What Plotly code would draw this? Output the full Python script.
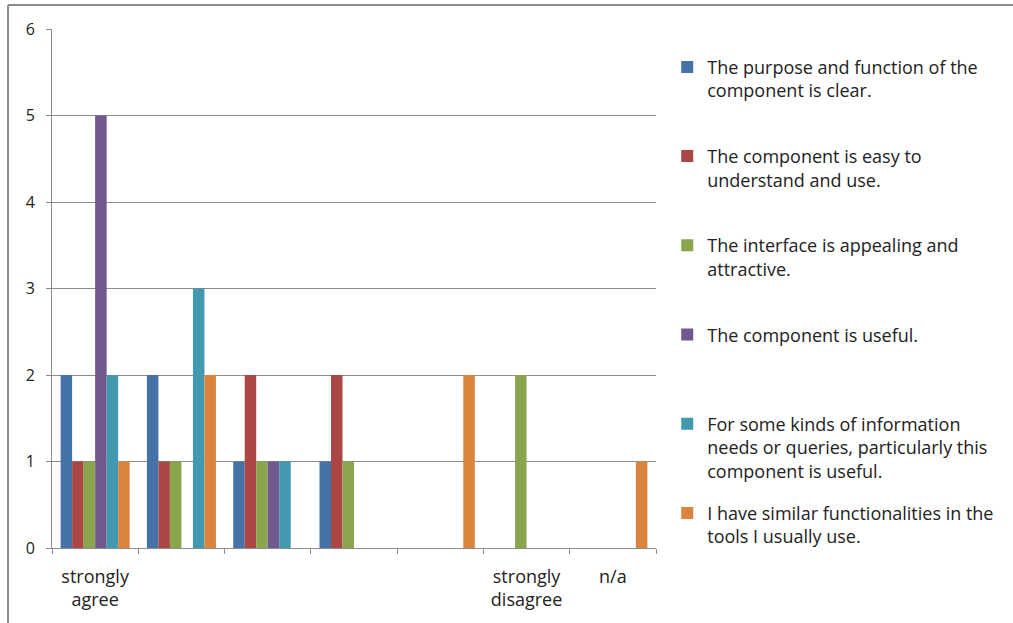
import plotly.graph_objects as go

tick_labels = ["strongly<br>agree", "", "", "", "", "strongly<br>disagree", "n/a"]
positions = list(range(len(tick_labels)))

series_names = [
    "The purpose and function of the<br>component is clear.",
    "The component is easy to<br>understand and use.",
    "The interface is appealing and<br>attractive.",
    "The component is useful.",
    "For some kinds of information<br>needs or queries, particularly this<br>component is useful.",
    "I have similar functionalities in the<br>tools I usually use.",
]
purpose_clear = [2, 2, 1, 1, 0, 0, 0]
easy_to_use = [1, 1, 2, 2, 0, 0, 0]
appealing = [1, 1, 1, 1, 0, 2, 0]
useful = [5, 0, 1, 0, 0, 0, 0]
useful_for_queries = [2, 3, 1, 0, 0, 0, 0]
similar_tools = [1, 2, 0, 0, 2, 0, 1]
series_values = [purpose_clear, easy_to_use, appealing, useful, useful_for_queries, similar_tools]
colors = ["#4572A7", "#AA4643", "#89A54E", "#71588F", "#4198AF", "#DB843D"]

FONT = "Open Sans"
TEXT = "#222222"
GRID = "#8C8C8C"

fig = go.Figure()
for i, (name, vals, col) in enumerate(zip(series_names, series_values, colors)):
    n_lines = name.count("<br>") + 1
    padded = name + "<br> " * (3 - n_lines)
    fig.add_trace(go.Bar(x=positions, y=vals, name=padded, marker_color=col,
                         marker_line_width=0, legendgroup=f"g{i}"))

fig.update_layout(
    width=1013, height=623,
    margin=dict(l=52, r=357, t=29, b=75),
    paper_bgcolor="white", plot_bgcolor="white",
    barmode="group", bargap=0.2, bargroupgap=0,
    font=dict(family=FONT, size=15, color=TEXT),
    showlegend=True,
    legend=dict(x=1.0186, xanchor="left", y=0.962, yanchor="top",
                valign="top", tracegroupgap=16, maxheight=623,
                font=dict(family=FONT, size=18, color=TEXT),
                bgcolor="rgba(0,0,0,0)"),
    xaxis=dict(type="category", tickvals=positions, ticktext=tick_labels,
               tickson="boundaries", ticks="outside", ticklen=5, tickcolor=GRID,
               showline=True, linecolor=GRID, linewidth=1, showgrid=False,
               tickfont=dict(family=FONT, size=18, color=TEXT), tickangle=0,
               ticklabelstandoff=12, range=[-0.5, 6.5]),
    yaxis=dict(range=[0, 6], dtick=1, ticks="outside", ticklen=5, tickcolor=GRID,
               showline=True, linecolor=GRID, linewidth=1,
               showgrid=True, gridcolor=GRID, gridwidth=1, zeroline=False,
               ticklabelstandoff=8,
               tickfont=dict(family=FONT, size=16, color=TEXT)),
    shapes=[
        dict(type="line", xref="paper", yref="paper", x0=-0.0728, x1=1.6, y0=1.0462, y1=1.0462,
             line=dict(color="#8C8C8C", width=2)),
        dict(type="line", xref="paper", yref="paper", x0=-0.0728, x1=-0.0728, y0=1.0462, y1=-0.16,
             line=dict(color="#8C8C8C", width=2)),
    ],
)

fig.write_html("out.html")
